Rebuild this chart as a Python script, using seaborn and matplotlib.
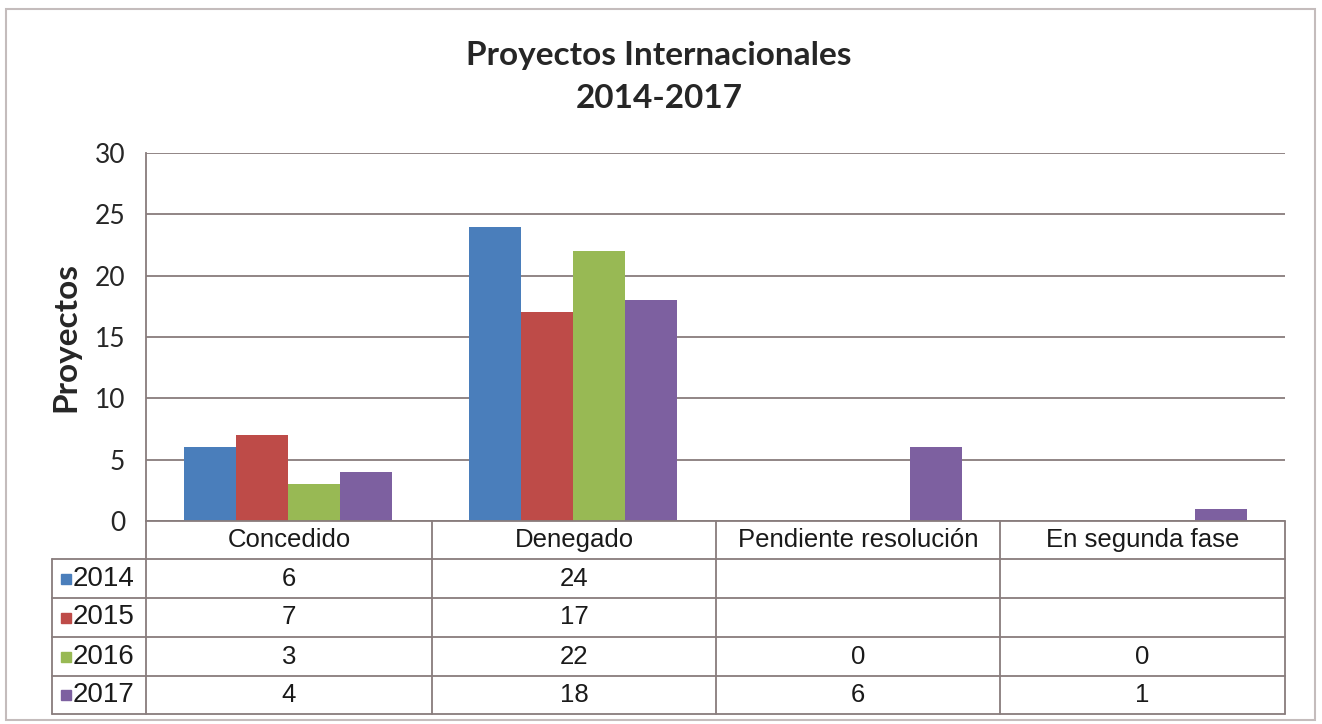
import numpy as np
import pandas as pd
import matplotlib
matplotlib.use("Agg")
import matplotlib.pyplot as plt
from matplotlib.lines import Line2D
from matplotlib.patches import Rectangle
import seaborn as sns

# ---------- data ----------
categories = ["Concedido", "Denegado", "Pendiente resolución", "En segunda fase"]
years = ["2014", "2015", "2016", "2017"]
v2014 = [6, 24, None, None]
v2015 = [7, 17, None, None]
v2016 = [3, 22, 0, 0]
v2017 = [4, 18, 6, 1]
series = [v2014, v2015, v2016, v2017]
colors = ["#4A7EBB", "#BE4B48", "#98B954", "#7D60A0"]
yticks = [0, 5, 10, 15, 20, 25, 30]

rows = []
for yr, vals in zip(years, series):
    for cat, v in zip(categories, vals):
        rows.append({"Categoria": cat, "Año": yr, "Proyectos": np.nan if v is None else v})
df = pd.DataFrame(rows)

# ---------- figure ----------
sns.set_style("white")
W, H = 1322, 724
fig = plt.figure(figsize=(W / 100, H / 100), dpi=100)
fig.patch.set_facecolor("white")

def fx(px):
    return px / W

def fy(py):
    return 1 - py / H

line_col = "#887c7c"
L, R, T, B = 146, 1285, 153, 521
ax = fig.add_axes([fx(L), fy(B), fx(R - L), (B - T) / H])

sns.barplot(data=df, x="Categoria", y="Proyectos", hue="Año", order=categories,
            hue_order=years, palette=colors, width=0.73, gap=0, ax=ax,
            saturation=1, legend=False, linewidth=0, err_kws={"linewidth": 0})

ax.set_xlim(-0.5, 3.5)
ax.set_ylim(0, 30)
ax.set_yticks(yticks)
ax.set_yticklabels([str(t) for t in yticks], fontsize=19, family="Lato")
ax.tick_params(axis="y", length=0, pad=15)
ax.set_xticks([])
ax.set_xlabel("")
ax.set_ylabel("")
ax.yaxis.grid(True, color=line_col, linewidth=1.3)
ax.set_axisbelow(True)
for s in ["top", "right", "bottom"]:
    ax.spines[s].set_visible(False)
ax.spines["left"].set_color(line_col)
ax.spines["left"].set_linewidth(1.3)

# title and y label
fig.text(fx(659), fy(55), "Proyectos Internacionales", ha="center", va="center",
         fontsize=24, fontweight="bold", family="Lato")
fig.text(fx(659), fy(98), "2014-2017", ha="center", va="center",
         fontsize=24, fontweight="bold", family="Lato")
fig.text(fx(66), fy(337), "Proyectos", ha="center", va="center", rotation=90,
         fontsize=24, fontweight="bold", family="Lato")

# ---------- data table ----------
col_x = [146, 432, 716, 1000, 1285]
row_y = [521, 559, 598, 637, 676, 714]
tab_left = 52
tf = fig.transFigure

def hline(x0, x1, y):
    fig.add_artist(Line2D([fx(x0), fx(x1)], [fy(y), fy(y)], color=line_col, lw=1.3, transform=tf))

def vline(x, y0, y1):
    fig.add_artist(Line2D([fx(x), fx(x)], [fy(y0), fy(y1)], color=line_col, lw=1.3, transform=tf))

hline(L, R, row_y[0])
for y in row_y[1:]:
    hline(tab_left, R, y)
vline(tab_left, row_y[1], row_y[-1])
for x in col_x:
    vline(x, row_y[0], row_y[-1])

txt_kw = dict(ha="center", va="center", fontsize=18.5, family="Liberation Sans", color="#1a1a1a")
for i, cat in enumerate(categories):
    cx = (col_x[i] + col_x[i + 1]) / 2
    fig.text(fx(cx), fy((row_y[0] + row_y[1]) / 2), cat, **txt_kw)

for r, (yr, vals, c) in enumerate(zip(years, series, colors)):
    cy = (row_y[r + 1] + row_y[r + 2]) / 2
    fig.add_artist(Rectangle((fx(61), fy(cy + 5)), fx(10), 10 / H, color=c, transform=tf))
    fig.text(fx(73), fy(cy), yr, ha="left", va="center", fontsize=20,
             family="Liberation Sans", color="#1a1a1a")
    for i, v in enumerate(vals):
        if v is None:
            continue
        cx = (col_x[i] + col_x[i + 1]) / 2
        fig.text(fx(cx), fy(cy), str(v), **txt_kw)

# outer chart border
fig.add_artist(Rectangle((fx(6), fy(720)), fx(1315 - 6), (720 - 9) / H, fill=False,
                         edgecolor="#c4bcbc", lw=1.5, transform=tf))

fig.savefig("out.png", dpi=100, facecolor="white")
